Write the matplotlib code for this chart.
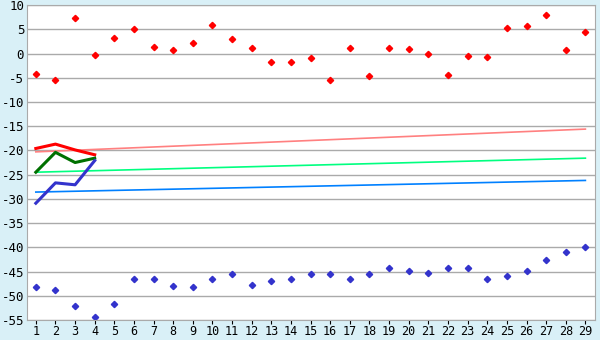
import numpy as np
import matplotlib.pyplot as plt

# category positions 1..29
cats = list(range(1, 30))

# scatter values
red_pts = [-4.3, -5.5, 7.3, -0.4, 3.3, 5.0, 1.3, 0.7, 2.1, 5.8,
           2.9, 1.1, -1.8, -1.8, -1.0, -5.5, 1.1, -4.7, 1.1, 0.9,
           0.0, -4.5, -0.6, -0.8, 5.2, 5.6, 7.9, 0.7, 4.4]
blue_pts = [-48.2, -48.9, -52.2, -54.4, -51.8, -46.6, -46.6, -48.0, -48.2, -46.6,
            -45.6, -47.8, -47.0, -46.6, -45.6, -45.6, -46.6, -45.6, -44.3, -44.9,
            -45.4, -44.3, -44.3, -46.6, -46.0, -44.9, -42.7, -41.0, -40.0]

# short lines over the first four categories
line_x = [1, 2, 3, 4]
red_line = [-19.6, -18.7, -19.9, -20.9]
green_line = [-24.5, -20.4, -22.5, -21.6]
blue_line = [-30.9, -26.7, -27.1, -22.1]

# trend lines, end points at categories 1 and 29
trend_x = [1, 29]
pink_trend = [-20.3, -15.6]
lgreen_trend = [-24.5, -21.6]
lblue_trend = [-28.6, -26.2]

fig = plt.figure(figsize=(6, 3.4), dpi=100)
fig.patch.set_facecolor('#d9f0f7')
ax = fig.add_axes([0.045, 0.059, 0.947, 0.926])
ax.set_facecolor('white')

ax.plot(trend_x, pink_trend, color='#ff8080', lw=1.2)
ax.plot(trend_x, lgreen_trend, color='#00ff80', lw=1.2)
ax.plot(trend_x, lblue_trend, color='#0080ff', lw=1.2)

ax.plot(line_x, red_line, color='#ff0000', lw=2.2)
ax.plot(line_x, green_line, color='#007000', lw=2.2)
ax.plot(line_x, blue_line, color='#3333cc', lw=2.2)

ax.plot(cats, red_pts, 'D', color='#ff0000', ms=3.2, ls='none')
ax.plot(cats, blue_pts, 'D', color='#3333cc', ms=3.2, ls='none')

ax.set_xlim(0.55, 29.5)
ax.set_ylim(-55, 10)
ax.set_yticks(np.arange(-55, 11, 5))
ax.set_xticks(cats)
ax.set_yticklabels([str(v) for v in range(-55, 11, 5)])
ax.grid(axis='y', color='#aaaaaa', lw=1)
ax.set_axisbelow(True)

for side in ['top', 'right', 'left', 'bottom']:
    ax.spines[side].set_color('#aaaaaa')
ax.tick_params(axis='y', length=0, pad=2, labelsize=9)
ax.tick_params(axis='x', length=3, color='black', pad=1, labelsize=8.5)
for lab in ax.get_xticklabels() + ax.get_yticklabels():
    lab.set_family('DejaVu Sans Mono')

fig.savefig('out.png', dpi=100, facecolor=fig.get_facecolor())
